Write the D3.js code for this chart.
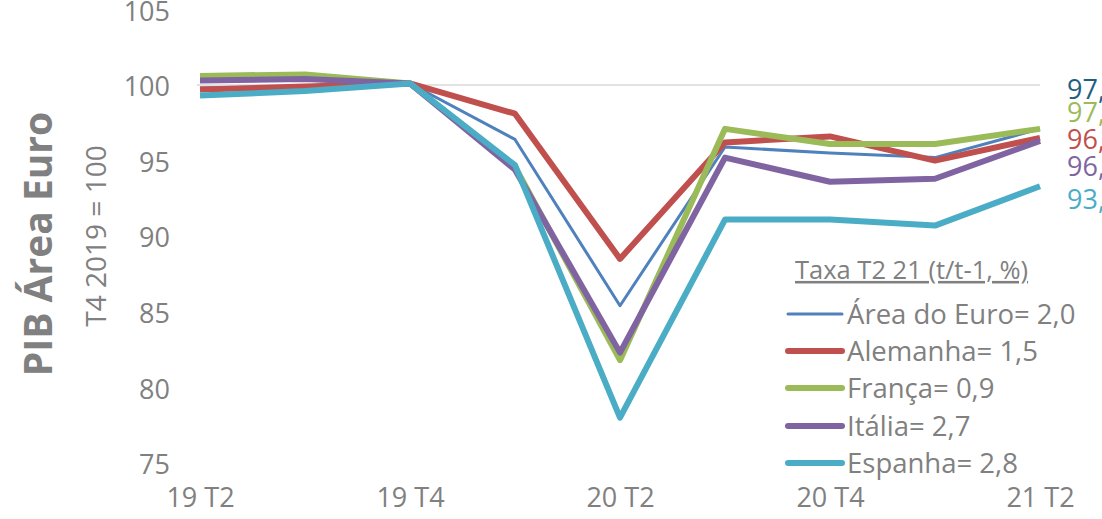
<!DOCTYPE html>
<html><head><meta charset="utf-8">
<script src="https://cdn.jsdelivr.net/npm/d3@7"></script>
<style>body{margin:0;background:#fff}svg{display:block}text{font-family:"Open Sans",sans-serif}</style>
</head><body><svg id="c" width="1102" height="519"></svg>
<script>
const categories = ["19 T2","19 T3","19 T4","20 T1","20 T2","20 T3","20 T4","21 T1","21 T2"];
const tickLabels = ["19 T2","19 T4","20 T2","20 T4","21 T2"];
const yTicks = [75,80,85,90,95,100,105];
const seriesNames = ["Área do Euro","Alemanha","França","Itália","Espanha"];
const rates = ["2,0","1,5","0,9","2,7","2,8"];
const endLabels = ["97,1","97,1","96,5","96,3","93,3"];
const euro     = [99.8, 99.9, 100.1, 96.4, 85.4, 95.9, 95.5, 95.2, 97.1];
const alemanha = [99.7, 99.9, 100.1, 98.1, 88.5, 96.2, 96.6, 95.0, 96.5];
const franca   = [100.6, 100.7, 100.1, 94.6, 81.8, 97.1, 96.1, 96.1, 97.1];
const italia   = [100.3, 100.4, 100.1, 94.4, 82.3, 95.2, 93.6, 93.8, 96.3];
const espanha  = [99.3, 99.6, 100.1, 94.7, 78.0, 91.1, 91.1, 90.7, 93.3];
const values = [euro, alemanha, franca, italia, espanha];
const colors = ["#4F81BD","#C0504D","#9BBB59","#8064A2","#4BACC6"];
const labelColors = ["#1F5F80","#9BBB59","#C0504D","#8064A2","#4BACC6"];
const widths = [3, 6, 6, 6, 6];

const svg = d3.select("#c");
const x = d3.scalePoint().domain(categories).range([200, 1040]);
const y = d3.scaleLinear().domain([75, 105]).range([463, 9.4]);
const grey = "#808080";

// reference line at 100
svg.append("line").attr("x1", 197).attr("x2", 1040).attr("y1", y(100)).attr("y2", y(100))
  .attr("stroke", "#d9d9d9").attr("stroke-width", 1.5);

// y axis labels
const yAxis = d3.axisLeft(y).tickValues(yTicks).tickSize(0).tickPadding(0);
const gy = svg.append("g").attr("transform", "translate(170,2)").call(yAxis);
gy.select(".domain").remove();
gy.selectAll("text").attr("font-size", 27).attr("fill", grey).attr("font-family", "Open Sans");

// x axis labels
const xAxis = d3.axisBottom(x).tickValues(tickLabels).tickSize(0).tickPadding(0);
const gx = svg.append("g").attr("transform", "translate(0,488)").call(xAxis);
gx.select(".domain").remove();
gx.selectAll("text").attr("font-size", 27).attr("fill", grey).attr("font-family", "Open Sans");

// lines
const line = d3.line().x((d, i) => x(categories[i])).y(d => y(d));
values.forEach((v, k) => {
  svg.append("path").datum(v).attr("d", line).attr("fill", "none")
    .attr("stroke", colors[k]).attr("stroke-width", widths[k]).attr("stroke-linejoin", "round");
});

// end labels
const endY = [90, 113, 140, 167, 200];
endLabels.forEach((t, k) => {
  svg.append("text").attr("x", 1067).attr("y", endY[k]).attr("dy", "0.35em")
    .attr("font-size", 27).attr("fill", labelColors[k]).text(t);
});

// legend
svg.append("text").attr("x", 795).attr("y", 270).attr("dy", "0.35em").attr("font-size", 25.5)
  .attr("fill", grey).attr("text-decoration", "underline").text("Taxa T2 21 (t/t-1, %)");
const legY = [314, 351, 388, 426, 463];
seriesNames.forEach((n, k) => {
  svg.append("line").attr("x1", 788).attr("x2", 842).attr("y1", legY[k]).attr("y2", legY[k])
    .attr("stroke", colors[k]).attr("stroke-width", widths[k]).attr("stroke-linecap", "round");
  svg.append("text").attr("x", 847).attr("y", legY[k]).attr("dy", "0.35em").attr("font-size", 27.5)
    .attr("fill", grey).text(n + "= " + rates[k]);
});

// axis titles
svg.append("text").attr("transform", "translate(52,244) rotate(-90)").attr("text-anchor", "middle")
  .attr("font-size", 39).attr("font-weight", "bold").attr("fill", grey).text("PIB Área Euro");
svg.append("text").attr("transform", "translate(106,236) rotate(-90)").attr("text-anchor", "middle")
  .attr("font-size", 28).attr("fill", grey).text("T4 2019 = 100");
</script></body></html>
